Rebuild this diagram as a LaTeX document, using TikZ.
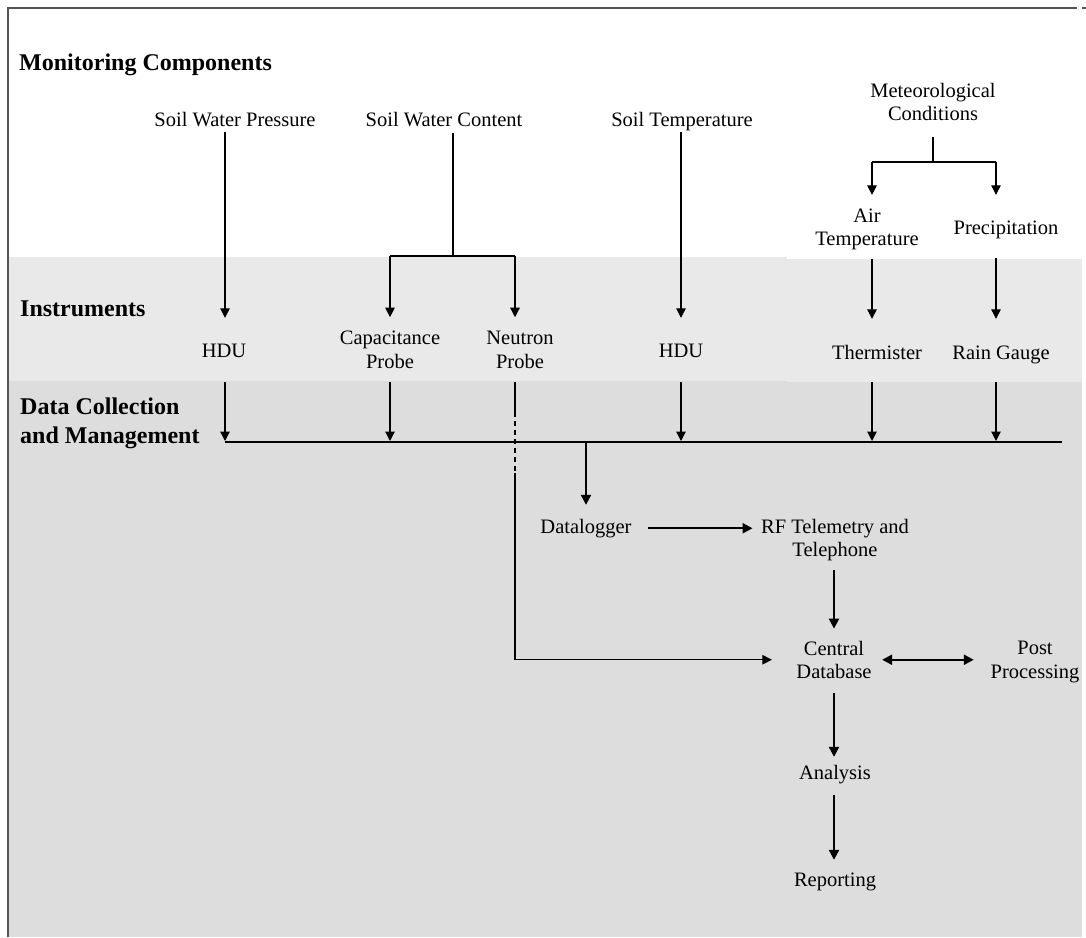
\documentclass[tikz,border=0pt]{standalone}
\usepackage{fontspec}
\setmainfont{Liberation Serif}
\usetikzlibrary{arrows.meta,calc}
\definecolor{bandA}{HTML}{E9E9E9}
\definecolor{bandB}{HTML}{DDDDDD}
\definecolor{framecol}{HTML}{555555}
\begin{document}
\begin{tikzpicture}[x=1pt,y=-1pt,
 lbl/.style={inner sep=0pt, font=\fontsize{20.5}{23.5}\selectfont, anchor=base, text height=14pt, text depth=4.5pt},
 lbltwo/.style={inner sep=0pt, font=\fontsize{20.5}{23.5}\selectfont, align=center, anchor=center},
 hd/.style={inner sep=0pt, font=\fontsize{24}{29}\selectfont\bfseries, align=left},
 ln/.style={line width=1.2pt},
 arr/.style={ln, -{Triangle[length=9.5pt,width=9.5pt]}},
 tk/.style={line width=2.2pt},
 tarr/.style={tk, -{Triangle[length=10pt,width=10pt]}},
 darr/.style={tk, {Triangle[length=10pt,width=10pt]}-{Triangle[length=10pt,width=10pt]}},
 dsh/.style={ln, dash pattern=on 5pt off 4pt}
]
\useasboundingbox (0,0) rectangle (1086,937);
% backgrounds
\fill[white] (0,0) rectangle (1086,937);
\fill[bandA] (8,257) rectangle (1082,381);
\fill[bandB] (8,381) rectangle (1082,937);
\fill[white] (787,255) rectangle (1082,259);
\fill[bandA] (787,259) rectangle (1082,382);
% frame
\draw[framecol, line width=1.5pt] (8,937) -- (8,8) -- (1077,8);
\draw[framecol, line width=1.5pt] (1082,8) -- (1086,8);

% column coordinates
\coordinate (cP) at (225,0);
\coordinate (cW) at (453,0);
\coordinate (cC) at (390,0);
\coordinate (cN) at (515,0);
\coordinate (cT) at (681,0);
\coordinate (cM) at (933,0);
\coordinate (cA) at (872,0);
\coordinate (cR) at (996,0);
\coordinate (cD) at (586,0);
\coordinate (cX) at (834,0);
\coordinate (wJ) at (453,256);
\coordinate (mJ) at (933,162);
\coordinate (busL) at (225,442);
\coordinate (busR) at (1062,442);

% headings
\node[hd, anchor=base west] (mc) at (19,70) {Monitoring Components};
\node[hd, anchor=base west] (ins) at (20,316) {Instruments};
\node[hd, anchor=west] (dcm) at (20,423.75) {Data Collection\\and Management};

% monitoring components
\node[lbl] (swp) at (235,126) {Soil Water Pressure};
\node[lbl] (swc) at (444,126) {Soil Water Content};
\node[lbl] (st) at (682,126) {Soil Temperature};
\node[lbltwo] (met) at (933,101.75) {Meteorological\\Conditions};
\node[lbltwo] (air) at (867,229.2) {Air\\Temperature};
\node[lbl] (prec) at (1006,234) {Precipitation};

% instruments
\node[lbl] (hdu1) at (224,357) {HDU};
\node[lbltwo] (cap) at (390,350) {Capacitance\\Probe};
\node[lbltwo] (neu) at (520,350) {Neutron\\Probe};
\node[lbl] (hdu2) at (681,357) {HDU};
\node[lbl] (therm) at (877,359) {Thermister};
\node[lbl] (rain) at (1001,359) {Rain Gauge};

% data collection
\node[lbl] (dl) at (586,533) {Datalogger};
\node[lbltwo] (rf) at (835,540) {RF Telemetry and\\Telephone};
\node[lbltwo] (cdb) at (834,659.75) {Central\\Database};
\node[lbltwo] (pp) at (1035,662) {Post\\Processing};
\node[lbl] (an) at (835,779) {Analysis};
\node[lbl] (rep) at (835,886) {Reporting};

% component -> instrument connectors
\draw[arr, shorten <=1.5pt, shorten >=25pt] (cP |- swp.south) -- (cP |- hdu1.north);
\draw[ln, shorten <=2.5pt] (cW |- swc.south) -- (wJ);
\draw[ln] (cC |- wJ) -- (cN |- wJ);
\draw[arr, shorten >=14pt] (cC |- wJ) -- (cC |- cap.north);
\draw[arr, shorten >=14pt] (cN |- wJ) -- (cN |- neu.north);
\draw[arr, shorten <=1.5pt, shorten >=25pt] (cT |- st.south) -- (cT |- hdu2.north);
\draw[ln, shorten <=16.5pt] (cM |- met.south) -- (mJ);
\draw[ln] (cA |- mJ) -- (cR |- mJ);
\draw[arr, shorten >=13.4pt] (cA |- mJ) -- (cA |- air.north);
\draw[arr, shorten >=25pt] (cR |- mJ) -- (cR |- prec.north);
\draw[arr, shorten <=8.5pt, shorten >=26pt] (cA |- air.south) -- (cA |- therm.north);
\draw[arr, shorten <=19.5pt, shorten >=26pt] (cR |- prec.south) -- (cR |- rain.north);

% instruments -> bus
\draw[tk] (busL) -- (busR);
\draw[arr, shorten <=20.5pt, shorten >=1pt] (cP |- hdu1.south) -- (cP |- busL);
\draw[arr, shorten <=13pt, shorten >=1pt] (cC |- cap.south) -- (cC |- busL);
\draw[arr, shorten <=20.5pt, shorten >=1pt] (cT |- hdu2.south) -- (cT |- busL);
\draw[arr, shorten <=18.5pt, shorten >=1pt] (cA |- therm.south) -- (cA |- busL);
\draw[arr, shorten <=18.5pt, shorten >=1pt] (cR |- rain.south) -- (cR |- busL);

% neutron probe -> central database
\draw[ln, shorten <=13pt] (cN |- neu.south) -- ($(cN |- busL)+(0,-30)$);
\draw[dsh] ($(cN |- busL)+(0,-30)$) -- ($(cN |- busL)+(0,31)$);
\draw[arr, shorten >=24.4pt] ($(cN |- busL)+(0,31)$) |- (cdb.west);

% data flow
\draw[tarr, shorten >=14pt] (cD |- busL) -- (cD |- dl.north);
\draw[tarr, shorten <=16.5pt, shorten >=8.4pt] (dl.east) -- (dl.east -| rf.west);
\draw[tarr, shorten <=9pt, shorten >=12pt] (cX |- rf.south) -- (cX |- cdb.north);
\draw[darr, shorten <=10.4pt, shorten >=16.6pt] (cdb.east) -- (cdb.east -| pp.west);
\draw[tarr, shorten <=14.5pt, shorten >=8pt] (cX |- cdb.south) -- (cX |- an.north);
\draw[tarr, shorten <=11.5pt, shorten >=12pt] (cX |- an.south) -- (cX |- rep.north);
\end{tikzpicture}
\end{document}
